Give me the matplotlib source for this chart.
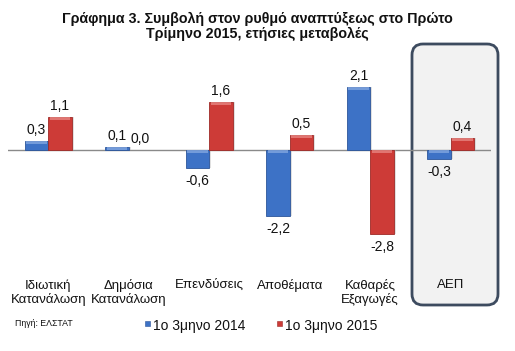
import matplotlib
matplotlib.use("Agg")
import matplotlib.pyplot as plt
from matplotlib.patches import FancyBboxPatch, Rectangle
from matplotlib.transforms import blended_transform_factory
import numpy as np

plt.rcParams['font.family'] = ['Liberation Sans', 'DejaVu Sans']

categories = ["Ιδιωτική\nΚατανάλωση", "Δημόσια\nΚατανάλωση", "Επενδύσεις",
              "Αποθέματα", "Καθαρές\nΕξαγωγές", "ΑΕΠ"]
q1_2014 = [0.3, 0.1, -0.6, -2.2, 2.1, -0.3]
q1_2015 = [1.1, 0.0, 1.6, 0.5, -2.8, 0.4]
series_names = ["1ο 3μηνο 2014", "1ο 3μηνο 2015"]
title = "Γράφημα 3. Συμβολή στον ρυθμό αναπτύξεως στο Πρώτο\nΤρίμηνο 2015, ετήσιες μεταβολές"
source = "Πηγή: ΕΛΣΤΑΤ"

W, H = 515, 351
fig = plt.figure(figsize=(W / 100, H / 100), dpi=100)
fig.patch.set_facecolor('white')

def fx(px):
    return px / W

def fy(py):
    return 1 - py / H

# highlight box (behind axes)
box = FancyBboxPatch((4.12, (H - 305) / 100), 0.86, (305 - 44) / 100,
                     boxstyle="round,pad=0,rounding_size=0.11",
                     transform=fig.dpi_scale_trans, facecolor='#f2f2f2',
                     edgecolor='#3d4b5f', linewidth=2.0, zorder=0)
fig.patches.append(box)

ax = fig.add_axes([fx(8), fy(250), fx(483), 190 / H])
ax.set_facecolor('none')
ax.set_zorder(1)
for s in ax.spines.values():
    s.set_visible(False)
ax.set_xticks([])
ax.set_yticks([])
ax.set_xlim(-0.5, len(categories) - 0.5)
ax.set_ylim(-100 / 30, 90 / 30)

x = np.arange(len(categories))
bw = 0.29
blue = '#3d72c6'
red = '#cd3b37'

ax.axhline(0, color='#8a8a8a', linewidth=1.0, zorder=1)

def draw_bars(xs, vals, color, edge, light):
    vals = np.asarray(vals)
    lw = [0.6 if v != 0 else 0 for v in vals]
    ax.bar(xs + 0.025, vals, bw, color='#bbbbbb', alpha=0.45, zorder=1.5, linewidth=0)
    ax.bar(xs, vals, bw, color=color, edgecolor=edge, linewidth=lw, zorder=2)
    # light bevel strip along the top edge of each bar
    tops = np.maximum(vals, 0)
    cap = np.minimum(np.abs(vals), 0.11)
    ax.bar(xs, -cap, bw * 0.88, bottom=tops, color=light, linewidth=0, zorder=2.1, alpha=0.75)

draw_bars(x - bw / 2, q1_2014, blue, '#2c559a', '#86aae2')
draw_bars(x + bw / 2, q1_2015, red, '#9e2a27', '#e98a86')

def label(xs, vals):
    for xi, v in zip(xs, vals):
        txt = f"{v:.1f}".replace('.', ',')
        if v >= 0:
            ax.text(xi, v + 0.13, txt, ha='center', va='bottom', fontsize=10, color='#111111', zorder=3)
        else:
            ax.text(xi, v - 0.2, txt, ha='center', va='top', fontsize=10, color='#111111', zorder=3)

label(x - bw / 2, q1_2014)
label(x + bw / 2, q1_2015)

tr = blended_transform_factory(ax.transData, fig.transFigure)
for xi, c in zip(x, categories):
    ax.text(xi, fy(279), c, transform=tr, ha='center', va='top', fontsize=9.5,
            color='#111111', linespacing=1.15)

fig.text(0.5, fy(12), title, ha='center', va='top', fontsize=10.3,
         fontweight='bold', color='#111111', linespacing=1.05)

fig.text(fx(15), fy(324), source, ha='left', va='center', fontsize=6.3, color='#111111')

for px, name, col, ec in [(145, series_names[0], blue, '#2c559a'), (277, series_names[1], red, '#9e2a27')]:
    fig.patches.append(Rectangle((fx(px), fy(326)), fx(5), 5 / H, transform=fig.transFigure,
                                 facecolor=col, edgecolor=ec, linewidth=0.4))
    fig.text(fx(px + 8), fy(326), name, ha='left', va='center', fontsize=10, color='#111111')

fig.savefig("out.png", dpi=100)
